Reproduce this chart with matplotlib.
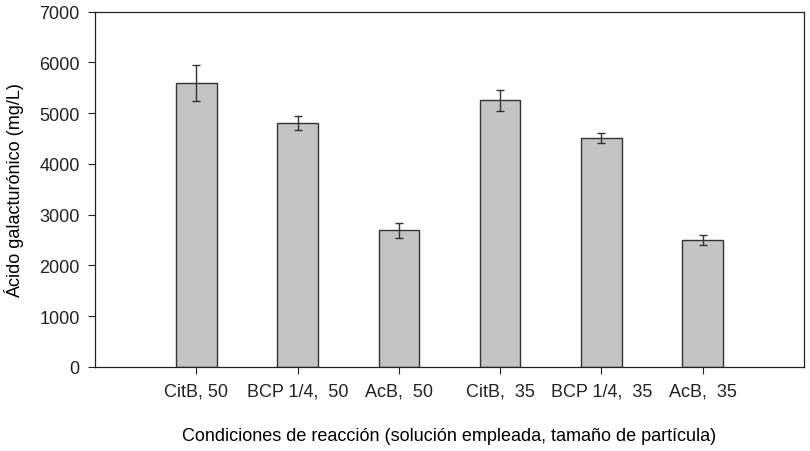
import numpy as np
import matplotlib.pyplot as plt

plt.rcParams['font.family'] = ['Liberation Sans', 'DejaVu Sans']

categorias = ['CitB, 50', 'BCP 1/4,  50', 'AcB,  50', 'CitB,  35', 'BCP 1/4,  35', 'AcB,  35']
valores = [5590, 4805, 2695, 5250, 4505, 2500]
errores = [350, 140, 148, 205, 98, 102]

fig = plt.figure(figsize=(8.1, 4.52), dpi=100)
ax = fig.add_axes([95 / 810, 1 - 368 / 452, 709 / 810, 355.5 / 452])

x = np.arange(1, len(categorias) + 1)
ax.bar(x, valores, width=0.4, color='#c4c4c4', edgecolor='#333333', linewidth=1.0, zorder=2)
ax.errorbar(x, valores, yerr=errores, fmt='none', ecolor='#333333', elinewidth=1.0,
            capsize=3, capthick=1.0, zorder=3)

ax.set_xlim(0, 7)
ax.set_ylim(0, 7000)
ax.set_yticks(range(0, 7001, 1000))
ax.set_xticks(x)
ax.set_xticklabels(categorias)
ax.tick_params(axis='both', labelsize=13, direction='out', length=5, width=0.8,
               colors='#222222', labelcolor='#222222')
ax.tick_params(axis='x', pad=6)
ax.tick_params(axis='y', pad=6)
for s in ax.spines.values():
    s.set_linewidth(0.9)
    s.set_color('#222222')

ax.set_ylabel('Ácido galacturónico (mg/L)', fontsize=13, labelpad=11)
ax.set_xlabel('Condiciones de reacción (solución empleada, tamaño de partícula)', fontsize=13, labelpad=20)

fig.savefig('out.png', dpi=100)
